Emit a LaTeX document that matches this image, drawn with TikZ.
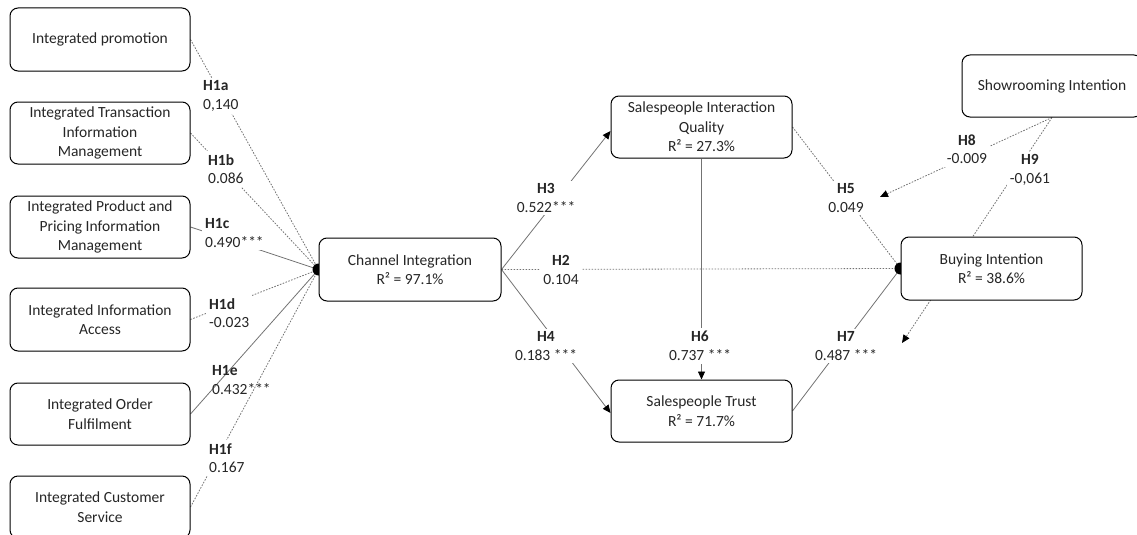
\documentclass[tikz,border=0pt]{standalone}
\usepackage{fontspec}
\setmainfont{Carlito}
\usetikzlibrary{arrows.meta,backgrounds}
\begin{document}
\begin{tikzpicture}[x=1pt,y=-1pt,
 box/.style={draw=black, line width=1pt, rounded corners=8pt, fill=white, align=center,
   font=\fontsize{15.5}{19.5}\selectfont, inner sep=0pt, text=black!85},
 lbl/.style={fill=white, inner sep=3pt, align=center, font=\fontsize{15.5}{18.5}\selectfont, text=black!85},
 lbll/.style={lbl, align=left},
 sol/.style={draw=black!55, line width=0.8pt},
 dotl/.style={draw=black!55, line width=0.8pt, dash pattern=on 1.6pt off 1.4pt},
 arr/.style={-{Triangle[length=8pt,width=7pt,fill=black,color=black]}},
]
\useasboundingbox (0,0) rectangle (1137,535);
% boxes
\node[box, minimum width=180pt, minimum height=63pt] (p1) at (100,39.5) {Integrated promotion};
\node[box, minimum width=180pt, minimum height=62pt] (p2) at (100,133) {Integrated Transaction\\Information\\Management};
\node[box, minimum width=180pt, minimum height=62pt] (p3) at (100,227) {Integrated Product and\\Pricing Information\\Management};
\node[box, minimum width=180pt, minimum height=63pt] (p4) at (100,319.5) {Integrated Information\\Access};
\node[box, minimum width=180pt, minimum height=62pt] (p5) at (100,414) {Integrated Order\\Fulfilment};
\node[box, minimum width=180pt, minimum height=62pt] (p6) at (100,507) {Integrated Customer\\Service};
\node[box, minimum width=182pt, minimum height=63pt] (ci) at (410,269.5) {Channel Integration\\R² = 97.1\%};
\node[box, minimum width=181pt, minimum height=62pt] (siq) at (701.5,127) {Salespeople Interaction\\Quality\\R² = 27.3\%};
\node[box, minimum width=181pt, minimum height=62pt] (st) at (701.5,411) {Salespeople Trust\\R² = 71.7\%};
\node[box, minimum width=181pt, minimum height=63pt] (bi) at (991.5,268.5) {Buying Intention\\R² = 38.6\%};
\node[box, minimum width=180pt, minimum height=62pt] (si) at (1052,86) {Showrooming Intention};
\coordinate (h8e) at (880,197);
\coordinate (h9e) at (902,343);
% connectors
\begin{scope}[on background layer]
\draw[dotl] (p1.east) -- (ci.west);
\draw[dotl] (p2.east) -- (ci.west);
\draw[sol] (p3.east) -- (ci.west);
\draw[dotl] (p4.east) -- (ci.west);
\draw[sol] (p5.east) -- (ci.west);
\draw[dotl] (p6.east) -- (ci.west);
\fill (ci.west) circle (6pt);
\draw[sol,arr] (ci.east) -- ([yshift=-4pt]siq.west);
\draw[sol,arr] (ci.east) -- ([yshift=-2pt]st.west);
\draw[dotl] (ci.east) -- (bi.west);
\draw[sol,arr] (siq.south) -- (st.north);
\draw[dotl] (siq.east) -- (bi.west);
\draw[sol] (st.east) -- (bi.west);
\fill (bi.west) circle (6pt);
\draw[dotl,arr] (si.south) -- (h8e);
\draw[dotl,arr] (si.south) -- (h9e);
\end{scope}
% labels
\node[lbll, anchor=west] (l1a) at (200,96) {\textbf{H1a}\\0,140};
\node[lbll, anchor=west] (l1b) at (205,169) {\textbf{H1b}\\0.086};
\node[lbll, anchor=west] (l1c) at (202,233) {\textbf{H1c}\\0.490***};
\node[lbll, anchor=west] (l1d) at (206,313) {\textbf{H1d}\\-0.023};
\node[lbll, anchor=west, fill=none] (l1e) at (209,380) {\textbf{H1e}\\0.432***};
\node[lbll, anchor=west] (l1f) at (206,458) {\textbf{H1f}\\0.167};
\node[lbl] (l3) at (546,198) {\textbf{H3}\\0.522***};
\node[lbl] (l2) at (561,270) {\textbf{H2}\\0.104};
\node[lbl] (l4) at (546,346) {\textbf{H4}\\0.183 ***};
\node[lbl] (l6) at (700,346) {\textbf{H6}\\0.737 ***};
\node[lbl] (l5) at (846,198) {\textbf{H5}\\0.049};
\node[lbl] (l7) at (846,346) {\textbf{H7}\\0.487 ***};
\node[lbl] (l8) at (967,149) {\textbf{H8}\\-0.009};
\node[lbl] (l9) at (1030,170) {\textbf{H9}\\-0,061};
\end{tikzpicture}
\end{document}
